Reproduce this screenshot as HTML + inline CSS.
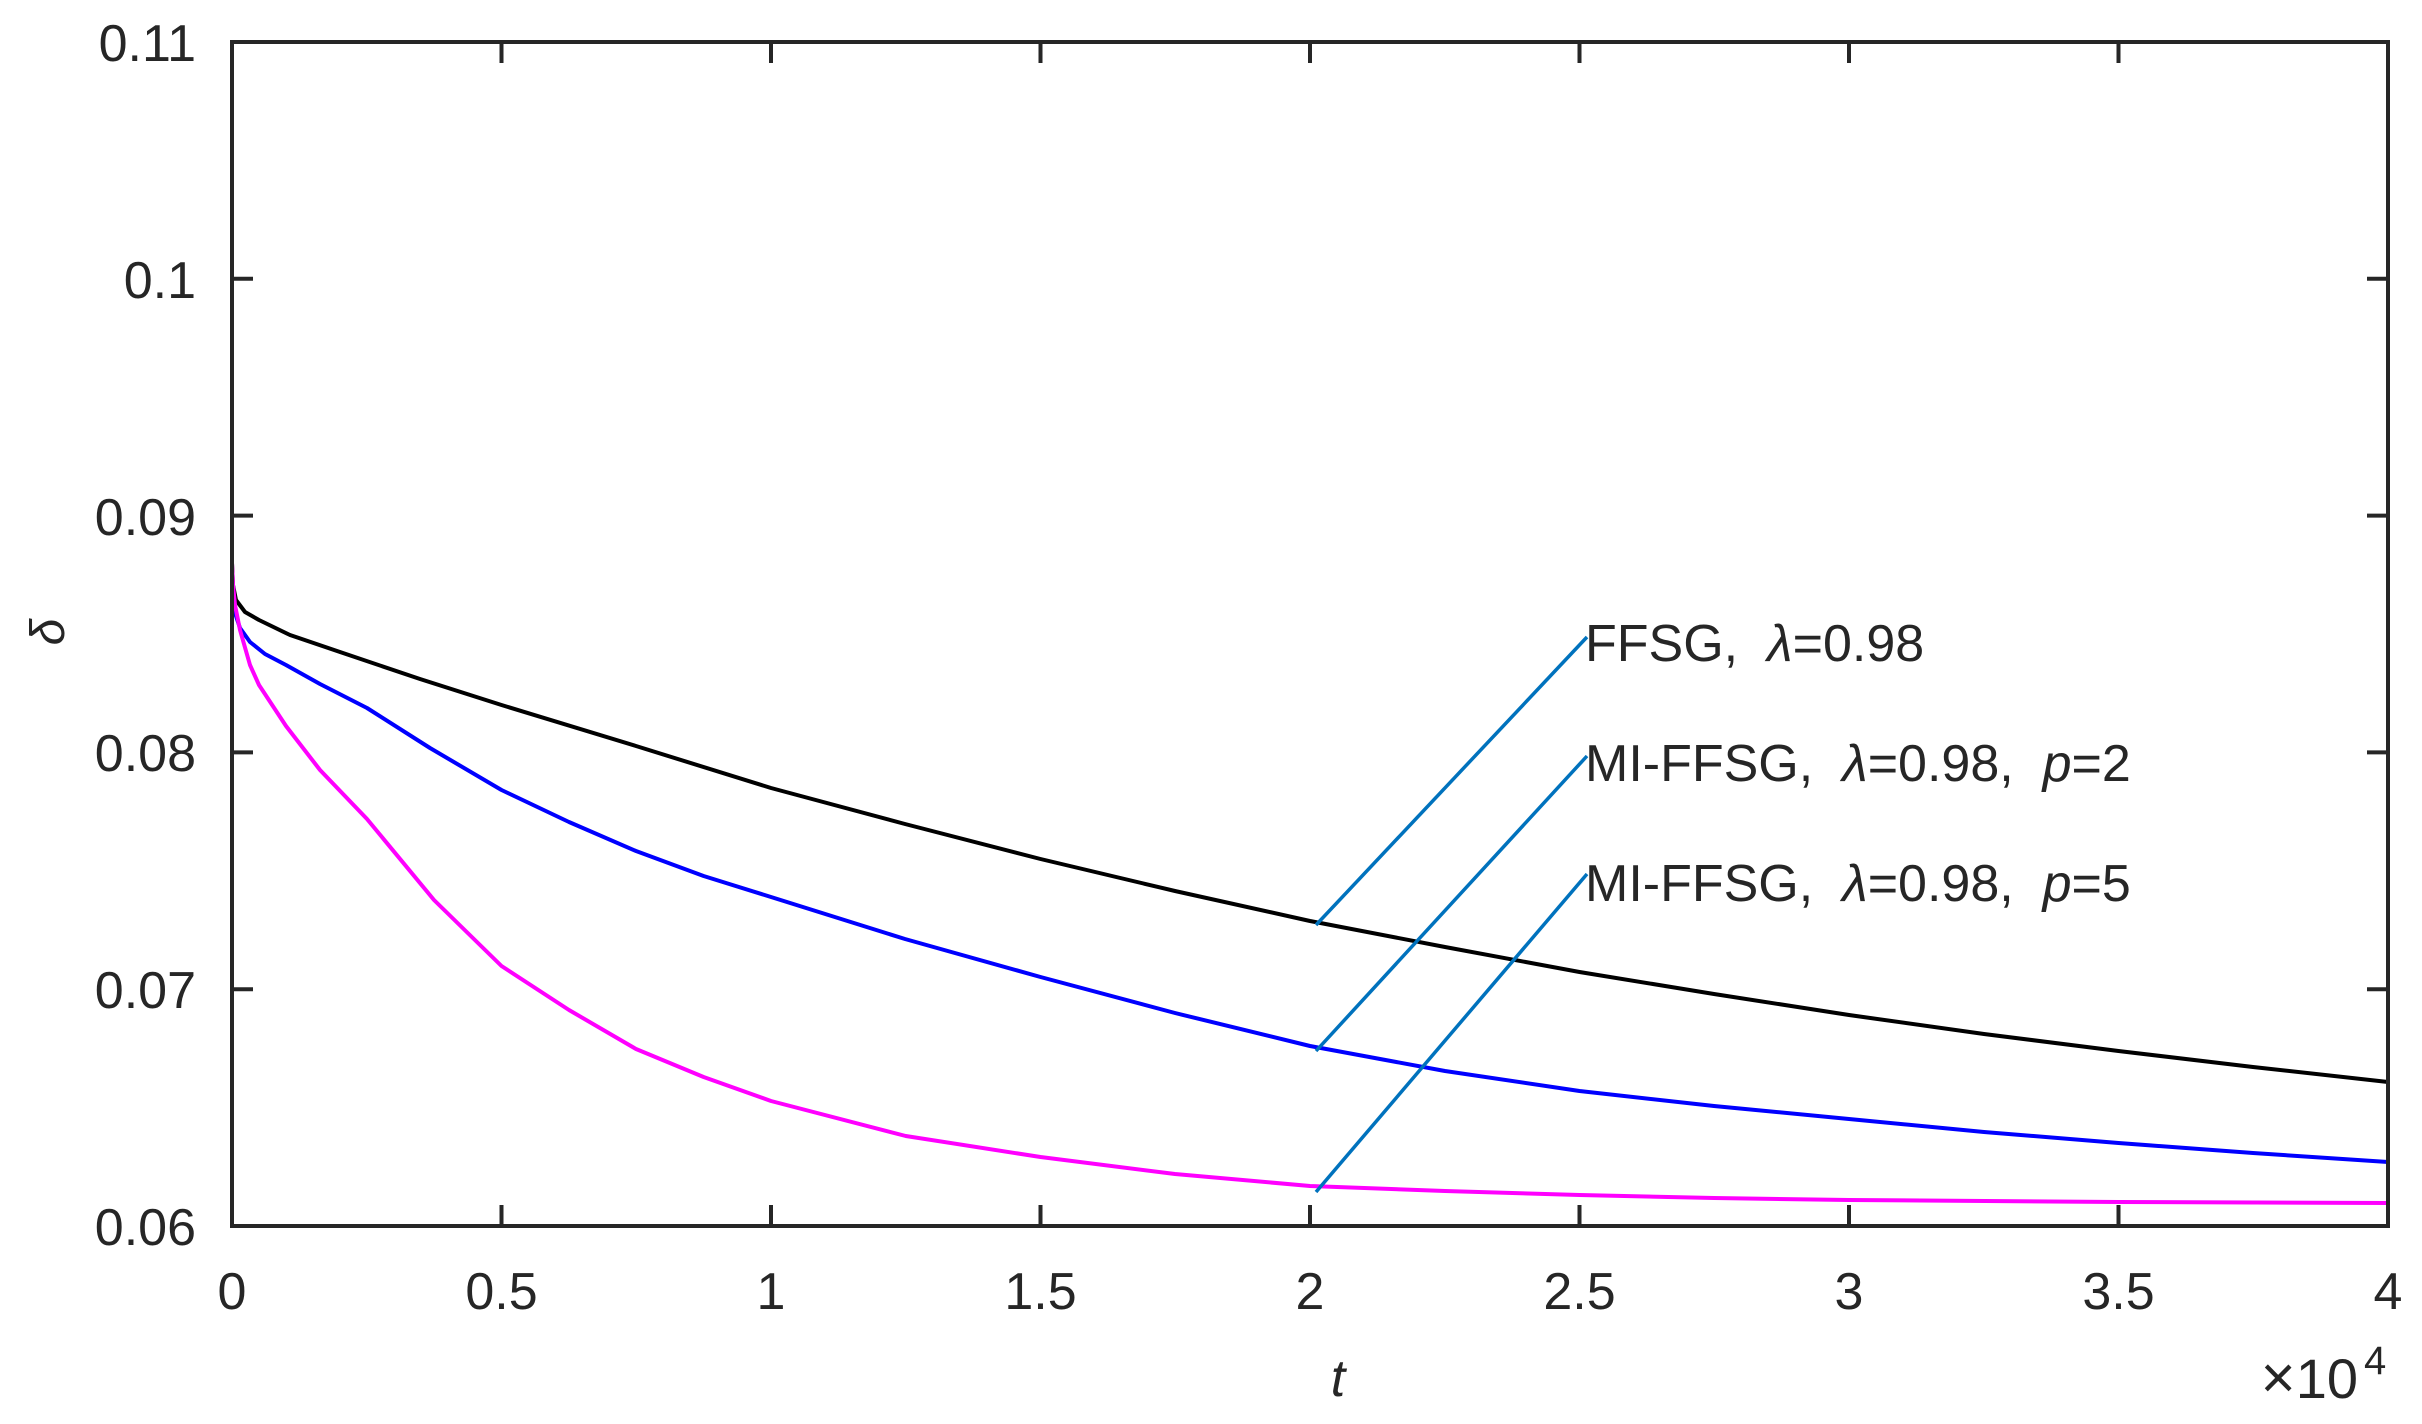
<!DOCTYPE html>
<html><head><meta charset="utf-8"><style>
html,body{margin:0;padding:0;background:#fff;}
svg{display:block;}
text{font-family:"Liberation Sans",sans-serif;fill:#262626;}
</style></head><body>
<svg width="2422" height="1424" viewBox="0 0 2422 1424" xmlns="http://www.w3.org/2000/svg">
<rect width="2422" height="1424" fill="#fff"/>
<g fill="none" stroke-width="4" stroke-linejoin="round">
<polyline stroke="#000" points="232,563 233,585 236,600 245,612 259,620 290,635 340,652 420,679 501.5,705 636,746 771,788 905,824 1040.5,859 1175,891 1310,921 1445,947 1579.5,972 1714,994 1849,1015 1984,1034 2118.5,1051 2253,1067 2388,1082"/>
<polyline stroke="#0000ff" points="232,587 233,600 235,613 240,628 250,642 265,654 286,665 320,684 367,708 430,748 501.5,790 569,822 636,851 703.6,876 771,897 905,939 1040.5,977 1175,1013 1310,1046 1445,1071 1579.5,1091 1714,1106 1849,1119 1984,1132 2118.5,1143 2253,1153 2388,1162"/>
<polyline stroke="#ff00ff" points="232,563 233,585 235,605 240,630 250,665 259,685 286,726 320,770 367,819 434,900 501.5,966 569,1010 636,1049 703.6,1077 771,1101 905.75,1136 1040.5,1157 1175,1174 1310,1186 1445,1191 1579.5,1195 1714,1198 1849,1200 2118.5,1202 2388,1203"/>
</g>
<g stroke="#0072bd" stroke-width="3.5">
<line x1="1316" y1="925" x2="1587" y2="637"/>
<line x1="1316" y1="1051" x2="1587" y2="756"/>
<line x1="1316" y1="1192" x2="1587" y2="874"/>
</g>
<rect x="232" y="42" width="2156" height="1184" fill="none" stroke="#262626" stroke-width="4"/>
<g stroke="#262626" stroke-width="4">
<line x1="501.5" y1="1226" x2="501.5" y2="1205"/><line x1="771" y1="1226" x2="771" y2="1205"/><line x1="1040.5" y1="1226" x2="1040.5" y2="1205"/><line x1="1310" y1="1226" x2="1310" y2="1205"/><line x1="1579.5" y1="1226" x2="1579.5" y2="1205"/><line x1="1849" y1="1226" x2="1849" y2="1205"/><line x1="2118.5" y1="1226" x2="2118.5" y2="1205"/>
<line x1="501.5" y1="42" x2="501.5" y2="63"/><line x1="771" y1="42" x2="771" y2="63"/><line x1="1040.5" y1="42" x2="1040.5" y2="63"/><line x1="1310" y1="42" x2="1310" y2="63"/><line x1="1579.5" y1="42" x2="1579.5" y2="63"/><line x1="1849" y1="42" x2="1849" y2="63"/><line x1="2118.5" y1="42" x2="2118.5" y2="63"/>
<line x1="232" y1="278.8" x2="253" y2="278.8"/><line x1="232" y1="515.6" x2="253" y2="515.6"/><line x1="232" y1="752.4" x2="253" y2="752.4"/><line x1="232" y1="989.2" x2="253" y2="989.2"/>
<line x1="2388" y1="278.8" x2="2367" y2="278.8"/><line x1="2388" y1="515.6" x2="2367" y2="515.6"/><line x1="2388" y1="752.4" x2="2367" y2="752.4"/><line x1="2388" y1="989.2" x2="2367" y2="989.2"/>
</g>
<g font-size="52" text-anchor="end">
<text x="196" y="61">0.11</text>
<text x="196" y="298">0.1</text>
<text x="196" y="535">0.09</text>
<text x="196" y="771">0.08</text>
<text x="196" y="1008">0.07</text>
<text x="196" y="1245">0.06</text>
</g>
<g font-size="52" text-anchor="middle">
<text x="232" y="1309">0</text>
<text x="501.5" y="1309">0.5</text>
<text x="771" y="1309">1</text>
<text x="1040.5" y="1309">1.5</text>
<text x="1310" y="1309">2</text>
<text x="1579.5" y="1309">2.5</text>
<text x="1849" y="1309">3</text>
<text x="2118.5" y="1309">3.5</text>
<text x="2388" y="1309">4</text>
</g>
<text x="1338" y="1396" font-size="52" font-style="italic" text-anchor="middle">t</text>
<text transform="translate(64,632) rotate(-90)" font-size="48" font-style="italic" text-anchor="middle">δ</text>
<text x="2358" y="1398" font-size="56" text-anchor="end"><tspan font-size="60">×</tspan>10</text>
<text x="2364" y="1374" font-size="40">4</text>
<g font-size="52" fill="#000">
<text x="1585" y="661" style="white-space:pre">FFSG,  <tspan font-style="italic">λ</tspan>=0.98</text>
<text x="1585" y="781" style="white-space:pre">MI-FFSG,  <tspan font-style="italic">λ</tspan>=0.98,  <tspan font-style="italic">p</tspan>=2</text>
<text x="1585" y="901" style="white-space:pre">MI-FFSG,  <tspan font-style="italic">λ</tspan>=0.98,  <tspan font-style="italic">p</tspan>=5</text>
</g>
</svg>
</body></html>
